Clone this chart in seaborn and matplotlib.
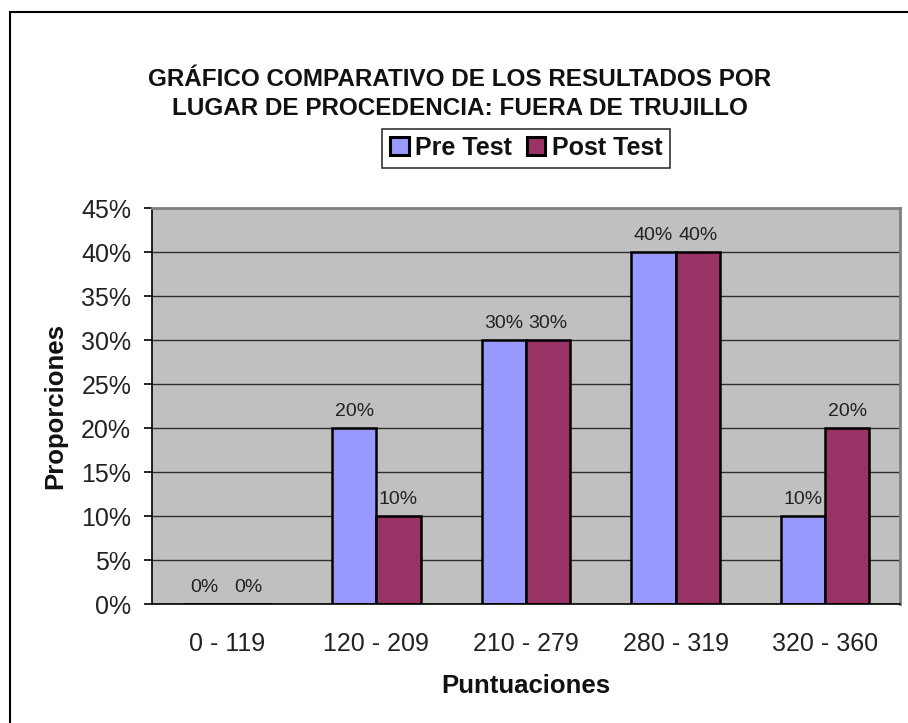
import pandas as pd
import matplotlib
matplotlib.use("Agg")
import matplotlib.pyplot as plt
import matplotlib.ticker as ticker
from matplotlib.patches import Rectangle
import seaborn as sns

# data
categorias = ["0 - 119", "120 - 209", "210 - 279", "280 - 319", "320 - 360"]
pre_test = [0.0, 0.20, 0.30, 0.40, 0.10]
post_test = [0.0, 0.10, 0.30, 0.40, 0.20]
series = ["Pre Test", "Post Test"]
colores = ["#9999FF", "#993366"]

df = pd.DataFrame({
    "Puntuaciones": categorias * 2,
    "Proporcion": pre_test + post_test,
    "Serie": [series[0]] * len(categorias) + [series[1]] * len(categorias),
})

sns.set_style("white")
plt.rcParams["font.family"] = ["Liberation Sans", "DejaVu Sans"]

W, H = 908, 723
fig = plt.figure(figsize=(W / 100, H / 100), dpi=100)
ax = fig.add_axes([152 / W, 1 - 604 / H, (900 - 152) / W, (604 - 208) / H])
ax.set_facecolor("#C0C0C0")

sns.barplot(data=df, x="Puntuaciones", y="Proporcion", hue="Serie",
            palette=colores, saturation=1, width=0.59, edgecolor="black",
            linewidth=1.8, ax=ax, legend=False)

ax.set_ylim(0, 0.45)
ax.set_xlim(-0.5, len(categorias) - 0.5)
ax.yaxis.set_major_locator(ticker.MultipleLocator(0.05))
ax.yaxis.set_major_formatter(ticker.FuncFormatter(lambda v, p: f"{round(v * 100)}%"))
ax.set_axisbelow(True)
ax.grid(axis="y", color="#303030", linewidth=1.0)
ax.grid(axis="x", visible=False)

# category ticks at group boundaries
ax.set_xticks(range(len(categorias)))
ax.set_xticklabels(categorias)
ax.set_xticks([i - 0.5 for i in range(len(categorias) + 1)], minor=True)
ax.tick_params(axis="x", which="major", length=0, labelsize=18, pad=20,
               labelcolor="#222222")
ax.tick_params(axis="x", which="minor", length=6, width=1.2, color="black", direction="out")
ax.tick_params(axis="y", length=6, width=1.2, color="black", direction="out",
               labelsize=18, pad=9, left=True, labelcolor="#222222")

for side in ["top", "right"]:
    ax.spines[side].set_color("#808080")
    ax.spines[side].set_linewidth(2)
for side in ["left", "bottom"]:
    ax.spines[side].set_color("black")
    ax.spines[side].set_linewidth(1.2)

for cont in ax.containers:
    ax.bar_label(cont, labels=[f"{round(v * 100)}%" for v in cont.datavalues],
                 padding=6, fontsize=14, color="#222222")

ax.set_xlabel("Puntuaciones", fontsize=18.5, fontweight="bold", color="#111111")
ax.xaxis.set_label_coords(0.5, 1 - (686 - 208) / 396)
ax.xaxis.label.set_va("center")
ax.set_ylabel("Proporciones", fontsize=18.5, fontweight="bold", color="#111111")
ax.yaxis.set_label_coords((55 - 152) / 748, 0.5)
ax.yaxis.label.set_va("center")

fig.text(460 / W, 1 - 94 / H,
         "GRÁFICO COMPARATIVO DE LOS RESULTADOS POR\nLUGAR DE PROCEDENCIA: FUERA DE TRUJILLO",
         ha="center", va="center", fontsize=17.5, fontweight="bold",
         linespacing=1.3, color="#111111")

handles = [Rectangle((0, 0), 1, 1, facecolor=c, edgecolor="black", linewidth=2.2)
           for c in colores]
leg = fig.legend(handles, series, loc="center", bbox_to_anchor=(526 / W, 1 - 148 / H),
                 ncol=2, frameon=True, fancybox=False, edgecolor="black",
                 prop={"size": 18, "weight": "bold"}, handlelength=0.75,
                 handleheight=0.75, handletextpad=0.25, columnspacing=0.6,
                 borderpad=0.3, borderaxespad=0)
leg.get_frame().set_linewidth(1.2)
for t in leg.get_texts():
    t.set_color("#111111")

# outer chart border
fig.patches.append(Rectangle((10 / W, -0.05), 1.0, 1 - 12 / H + 0.05,
                             transform=fig.transFigure, fill=False,
                             edgecolor="black", linewidth=1.5))

fig.savefig("out.png", dpi=100)
